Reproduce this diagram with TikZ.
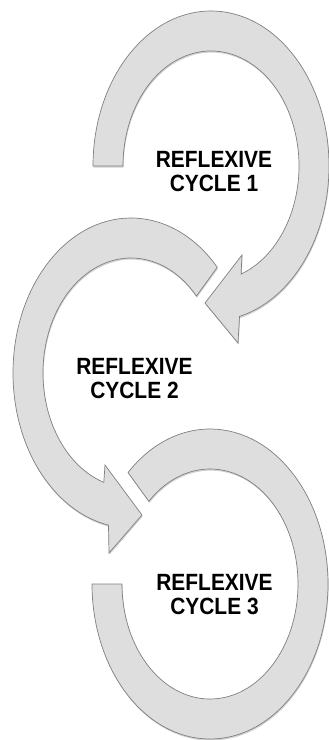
\documentclass[tikz,border=0pt]{standalone}
\usepackage{fontspec}
\usepackage{graphicx}
\newfontfamily\labfont{Liberation Sans}[FakeStretch=0.89]
\usetikzlibrary{calc,shadows}
\definecolor{ringfill}{RGB}{222,222,222}
\definecolor{ringline}{RGB}{128,128,128}
\begin{document}
\begin{tikzpicture}[x=1pt,y=-1pt,
  ring/.style={fill=ringfill,draw=ringline,line width=0.7pt,line join=miter,
    drop shadow={shadow xshift=0.6pt,shadow yshift=-1.6pt,opacity=0.18,fill=black}},
  cyclelabel/.style={font=\labfont\bfseries\fontsize{23.5}{24}\selectfont,
    align=center,inner sep=0pt,text=black}]
\useasboundingbox (0,0) rectangle (329,740);
\coordinate (C1) at (211,166);
\coordinate (C2) at (131,373);
\coordinate (C3) at (210,584);
% cycle 1
\draw[ring] ($(C1)+(180:118 and 155)$)
  arc[start angle=180,end angle=436,x radius=118,y radius=155]
  -- (238,343) -- (205,303) -- (242,255)
  -- ($(C1)+(430:88 and 115)$)
  arc[start angle=430,end angle=180,x radius=88,y radius=115] -- cycle;
% cycle 2
\draw[ring] ($(C2)+(-43:118 and 155)$)
  arc[start angle=-43,end angle=-259,x radius=118,y radius=155]
  -- (109,553) -- (142,515) -- (105,465)
  -- ($(C2)+(-252:88 and 115)$)
  arc[start angle=-252,end angle=-42,x radius=88,y radius=115] -- cycle;
% cycle 3
\draw[ring] ($(C3)+(226:118 and 155)$)
  arc[start angle=226,end angle=540,x radius=118,y radius=155]
  -- ($(C3)+(180:88 and 115)$)
  arc[start angle=540,end angle=226,x radius=88,y radius=115] -- cycle;
\node[cyclelabel] (t1) at (214,172) {REFLEXIVE\\CYCLE 1};
\node[cyclelabel] (t2) at (134.5,379) {REFLEXIVE\\CYCLE 2};
\node[cyclelabel] (t3) at (214.5,595) {REFLEXIVE\\CYCLE 3};
\end{tikzpicture}
\end{document}
